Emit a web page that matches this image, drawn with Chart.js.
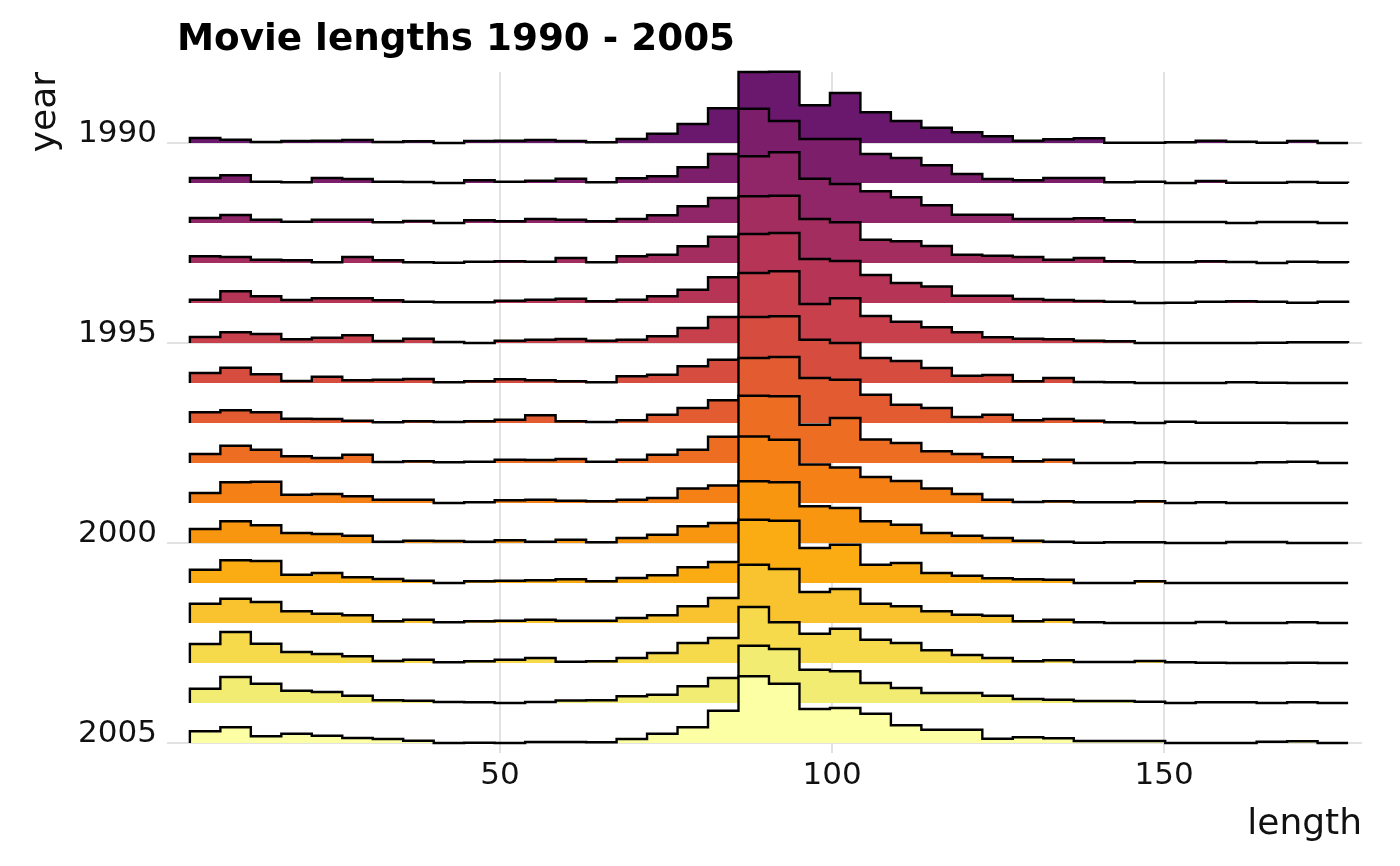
<!DOCTYPE html>
<html>
<head>
<meta charset="utf-8">
<script src="https://cdn.jsdelivr.net/npm/chart.js@4.4.1/dist/chart.umd.min.js"></script>
<style>
html,body{margin:0;padding:0;background:#fff;}
#wrap{width:1400px;height:866px;}
</style>
</head>
<body>
<div id="wrap"><canvas id="c" width="1400" height="866"></canvas></div>
<script>
// ---- data ----
const chartTitle = 'Movie lengths 1990 - 2005';
const years = [1990,1991,1992,1993,1994,1995,1996,1997,1998,1999,2000,2001,2002,2003,2004,2005];
const yTicks = [1990, 1995, 2000, 2005];
const xTicks = [50, 100, 150];
const lengthBinStart = 3.295;   // first bin edge (minutes)
const lengthBinWidth = 4.5897;  // histogram bin width (minutes)

// relative ridge heights per length bin (38 bins)
const h1990 = [5,3.3,1,2,2.3,3,1,1.7,0,2,2.3,3, 2,0.7,4,9.3,19,34.7,71,71.3,37.7,50,30.7,22,15.3, 10.7,6.7,2.3,3.7,4.7,0.3,0.3,0.7,2.3,1.3,0.3,2,0];
const h1991 = [5,7.7,1.3,0.7,5,4,1.3,1,0,2.7,1.3,2.3, 4.3,0.7,4.7,6.7,15.7,29,74.3,62,44,44,29,25,17.7, 9,4,2.7,5,5,0.7,1.3,0,2,0.3,0.3,1,0.3];
const h1992 = [5,8,3.3,1.3,3.3,3.3,0.7,2,0,2.7,1.7,4, 3.3,1.7,4,7.7,16.7,25,66.7,70.7,44.3,39,31.7,25.7,17.7, 8.3,8.3,4,4,4.7,2.7,1,1,1,0,1,1,0];
const h1993 = [6.7,6,3.3,2.7,0.7,6,2.7,0.7,0.3,1.3,1.7,1.3, 5,0.7,6.7,8.3,16.7,26.3,66.7,67.3,44,40.7,23.3,21.7,17, 8.3,7.3,6,3.3,5,1.7,0.7,0.7,1.7,1,0,1.3,0.7];
const h1994 = [3.3,11.7,6.7,3,4.7,4.7,2.7,1.3,0.7,0.7,2.3,3.3, 4.3,1.7,3.3,6.7,13.3,25.7,69,70,44,42,28,20,16.5, 7.3,7.3,4,3,2,1.3,0,0.3,1.3,1.7,1.3,0.3,1.3];
const h1995 = [6,10.7,9,3.7,5.3,7.7,2,4.3,1,0,2.3,3.3, 4,2.3,3.3,6.7,15,26,70,71.7,39,44.7,27,21.3,15.7, 10.7,5.7,4.3,3.7,2.3,1.7,0,0,0,0,0.3,0.7,0.7];
const h1996 = [10,15.3,8.7,2,6.3,2.7,3.3,4,0.7,1.7,3.7,2.7, 1.7,0.7,6.7,8.3,16.7,23.3,66,66.7,43.3,40,25,22,15, 7.3,8,1.7,5,1,0.7,0,0,0,0.7,0.3,0,0];
const h1997 = [10.7,12.7,10.7,4.3,4,2.3,0.7,1.7,1,1.7,3.3,7.7, 1.7,1,2.7,8.3,15,22.7,65,66,45,43.3,28.3,18.3,15, 6,8.3,2.7,4,2.3,0.7,0,1.3,0.3,0.3,0.3,0,0];
const h1998 = [9,17.3,13.3,6.7,5,8.3,1,1.7,0.7,1.3,3.3,3, 4,1.3,3.3,8.3,13.3,26.3,67.3,66.7,38.3,45,23.5,20,11.7, 9,5.7,1.7,3.3,0,0,0.7,0,0,0,0.7,1.3,0];
const h1999 = [10,20.7,21.3,8.3,9,6.7,3.3,3.3,0,0.7,2.7,3.3, 2.3,1.7,3.3,5,14.5,17.5,66.5,63.3,38.5,35.5,26,22,14.5, 9,3.3,1,1.7,0.7,0.7,1.7,0,0.7,0,0,0,0];
const h2000 = [14,21.7,17.7,10,9,7.3,1.3,2.3,2,1.3,2.7,1.3, 3.2,0.7,5,8.3,16.7,20,61.7,60.7,36.7,35,21.7,18.3,10, 7.3,5,2.3,1.3,0.3,0.7,0.7,0,0,1,1,0,0];
const h2001 = [13.3,22.7,22,8.3,10,5.7,4,2.3,0,1.7,2.3,2.7, 3.8,1.7,5,7.7,15.7,21,63.3,62.3,35,38.3,18.3,20,10, 7.3,4.7,3.7,3.3,0,0,1.7,0,0,0,0,0,0];
const h2002 = [19.3,24.3,21,11.7,9.3,7.7,1.7,3.3,0.7,1.7,2.3,3.3, 2.2,2.3,5,7.7,16.7,25,58.3,54,31,34,19.3,16.7,11.7, 8.3,7.3,1.7,3.3,0.7,0,0,0,1,0,0,0.7,0];
const h2003 = [19,31,19.3,11,9,6.7,2,3.3,0.7,1.7,3.3,5, 1.3,1.7,5,10,20,25,56,40.7,29.3,34.3,23.3,20,12.7, 8,5,1.7,2.7,1,1,2,0.7,0.3,0,0,0.3,0];
const h2004 = [14.3,26,19.3,12.3,11,7.3,2.7,2.3,1,0.7,0,1, 2.5,2.7,6.7,8.3,16.7,25,57.3,54,33.3,31.7,20,15,10, 10,7.3,4,3.3,2,2,1.3,0,0.7,0.7,0,0.7,0];
const h2005 = [11.7,15.7,6.7,9.3,7.3,5,4,2.3,0,0.3,0,1, 1,0.7,4,9.3,15.7,32.3,66.7,59.3,34,35,29.3,17.7,13.3, 13.3,4.3,5.7,4.7,2,2,2,0,0,0,1.3,1.7,0];
const heights = [h1990,h1991,h1992,h1993,h1994,h1995,h1996,h1997,h1998,h1999,h2000,h2001,h2002,h2003,h2004,h2005];

// ---- style ----
const ridgeScale = 1 / 40; // height units -> year rows
const fillColors = ['#6A176E','#7D1E6B','#902567','#A32D5F','#B63556','#C7404B','#D64C3F','#E35B31',
                    '#ED6E22','#F58116','#F9960F','#FBAC12','#F8C32E','#F6DA4C','#F3EC72','#FCFFA4'];
const FONT = "'DejaVu Sans', 'Liberation Sans', sans-serif";
const gridColor = '#e2e2e2';

const binCount = h1990.length;
const edges = [];
for (let b = 0; b <= binCount; b++) edges.push(lengthBinStart + b * lengthBinWidth);

const datasets = years.map((yr, i) => {
  const h = heights[i];
  const base = -yr;
  const pts = [{x: edges[0], y: base}];
  for (let b = 0; b < h.length; b++) pts.push({x: edges[b], y: base + h[b] * ridgeScale});
  pts.push({x: edges[h.length], y: base + h[h.length - 1] * ridgeScale});
  pts.push({x: edges[h.length], y: base});
  return {
    label: String(yr),
    data: pts,
    stepped: 'before',
    fill: {value: base},
    backgroundColor: fillColors[i],
    borderColor: '#000',
    borderWidth: 2.4,
    pointRadius: 0,
    pointHoverRadius: 0,
    tension: 0,
    clip: false,
    order: years.length - 1 - i
  };
});

const titlePlugin = {
  id: 'plotTitle',
  afterDraw(chart) {
    const ctx = chart.ctx;
    ctx.save();
    ctx.font = "bold 37.3px " + FONT;
    ctx.fillStyle = '#000';
    ctx.textAlign = 'left';
    ctx.textBaseline = 'alphabetic';
    ctx.fillText(chartTitle, 177, 50);
    ctx.restore();
  }
};

new Chart(document.getElementById('c'), {
  type: 'line',
  data: {datasets},
  plugins: [titlePlugin],
  options: {
    responsive: false,
    animation: false,
    devicePixelRatio: 1,
    layout: {padding: {top: 72, right: 38, left: 0, bottom: 0}},
    plugins: {legend: {display: false}, tooltip: {enabled: false}},
    events: [],
    scales: {
      x: {
        type: 'linear',
        min: -0.15,
        max: 179.8,
        afterBuildTicks: s => { s.ticks = xTicks.map(v => ({value: v})); },
        afterFit: s => { s.height = 113; },
        grid: {color: gridColor, lineWidth: 2, drawTicks: false},
        border: {display: false},
        ticks: {font: {family: FONT, size: 31}, color: '#111', padding: 4, maxRotation: 0},
        title: {display: true, text: 'length', align: 'end', color: '#111',
                font: {family: FONT, size: 36}, padding: {top: 0, bottom: 20}}
      },
      y: {
        type: 'linear',
        min: -2005.25,
        max: -1988.225,
        afterBuildTicks: s => { s.ticks = yTicks.map(v => ({value: -v})); },
        afterFit: s => { s.width = 167; },
        grid: {color: gridColor, lineWidth: 2, drawTicks: false},
        border: {display: false},
        ticks: {font: {family: FONT, size: 31}, color: '#111', padding: 10, labelOffset: -9,
                callback: v => String(-v)},
        title: {display: true, text: 'year', align: 'end', color: '#111',
                font: {family: FONT, size: 36}, padding: {top: 24, bottom: 0}}
      }
    }
  }
});
</script>
</body>
</html>
